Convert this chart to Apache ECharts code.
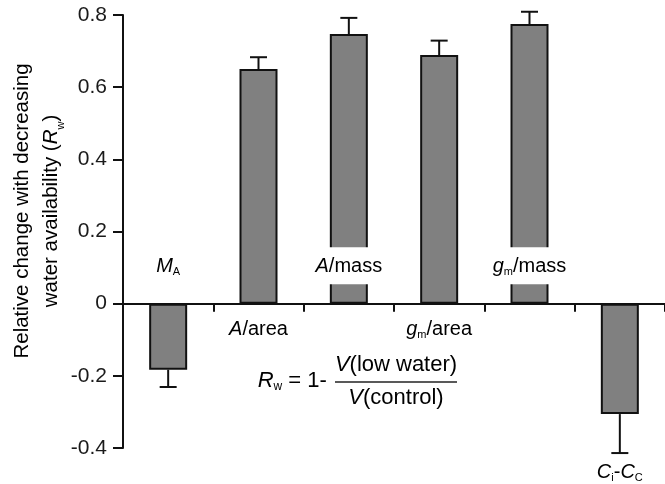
<!DOCTYPE html>
<html><head><meta charset="utf-8">
<script src="https://cdn.jsdelivr.net/npm/echarts@6/dist/echarts.min.js"></script>
<style>html,body{margin:0;padding:0;background:#fff}#c{width:665px;height:484px}</style>
</head><body><div id="c"></div>
<script>
// ---- data ----
const categories = ['MA', 'A/area', 'A/mass', 'gm/area', 'gm/mass', 'Ci-Cc'];
const categoryLabels = ['{i|M}{s|A}', '{i|A}{n|/area}', '{i|A}{n|/mass}', '{i|g}{s|m}{n|/area}', '{i|g}{s|m}{n|/mass}', '{i|C}{s|i}{n|-}{i|C}{s|C}'];
const labelPlacement = ['above', 'below', 'above', 'below', 'above', 'end'];
const values = [-0.183, 0.650, 0.747, 0.689, 0.775, -0.306];
const errors = [0.048, 0.033, 0.045, 0.040, 0.034, 0.108];
const yMin = -0.4, yMax = 0.8, yStep = 0.2;

const FONT = 'Arial, "Liberation Sans", Helvetica, sans-serif';
const TXT = '#1a1a1a';
function mkRich(fs, sub, lh) {
  return {
    i: {fontFamily: FONT, fontSize: fs, fontStyle: 'italic', color: TXT, lineHeight: lh, verticalAlign: 'middle'},
    n: {fontFamily: FONT, fontSize: fs, color: TXT, lineHeight: lh, verticalAlign: 'middle'},
    s: {fontFamily: FONT, fontSize: sub, color: TXT, lineHeight: Math.round(sub * 1.15), verticalAlign: 'bottom'}
  };
}
const rich = mkRich(20, 11, 22);
const richF = mkRich(22, 12, 24);

const chart = echarts.init(document.getElementById('c'), null, {renderer: 'canvas'});
const barData = values.map((v, i) => [i, v]);
const errData = values.map((v, i) => [i, v, errors[i]]);

chart.setOption({
  animation: false,
  backgroundColor: '#fff',
  grid: {left: 123, right: -2, top: 15, bottom: 36, containLabel: false},
  xAxis: {
    type: 'category', data: categories,
    axisLine: {onZero: true, lineStyle: {color: '#111', width: 2}},
    axisTick: {show: true, inside: false, length: 8, lineStyle: {color: '#111', width: 2}},
    axisLabel: {show: false},
    splitLine: {show: false}
  },
  yAxis: {
    type: 'value', min: yMin, max: yMax, interval: yStep,
    axisLine: {show: true, onZero: false, lineStyle: {color: '#111', width: 2}},
    axisTick: {show: true, inside: false, length: 10, lineStyle: {color: '#111', width: 2}},
    axisLabel: {margin: 16, fontFamily: FONT, fontSize: 21, color: TXT,
      formatter: v => (Math.abs(v) < 1e-9 ? '0' : v.toFixed(1))},
    splitLine: {show: false}
  },
  series: [
    {
      type: 'bar', data: barData, barWidth: 38,
      itemStyle: {color: '#808080', borderColor: '#111', borderWidth: 2},
      z: 2
    },
    {
      type: 'custom', data: errData, z: 3,
      renderItem: function (params, api) {
        const i = api.value(0), v = api.value(1), e = api.value(2);
        const sign = v >= 0 ? 1 : -1;
        const p0 = api.coord([i, v]);
        const p1 = api.coord([i, v + sign * e]);
        const st = {stroke: '#111', lineWidth: 2};
        return {type: 'group', children: [
          {type: 'line', shape: {x1: p0[0], y1: p0[1], x2: p1[0], y2: p1[1]}, style: st},
          {type: 'line', shape: {x1: p1[0] - 8.5, y1: p1[1], x2: p1[0] + 8.5, y2: p1[1]}, style: st}
        ]};
      }
    },
    {
      type: 'custom', data: errData, z: 5,
      renderItem: function (params, api) {
        const i = api.value(0), v = api.value(1), e = api.value(2);
        const pl = labelPlacement[i];
        const pz = api.coord([i, 0]);
        let y;
        if (pl === 'above') y = pz[1] - 38;
        else if (pl === 'below') y = pz[1] + 26;
        else y = api.coord([i, v - e])[1] + 19;
        const style = {
          text: categoryLabels[i], rich: rich, x: pz[0], y: y,
          align: 'center', verticalAlign: 'middle'
        };
        if (pl === 'above') {
          style.backgroundColor = '#fff';
          style.padding = [8, 4, 7, 4];
        }
        return {type: 'text', style: style, z2: 10};
      }
    }
  ],
  graphic: [
    {
      type: 'text', x: 37, y: 211, rotation: Math.PI / 2,
      style: {
        text: '{n|Relative change with decreasing}\n{n|water availability (}{i|R}{s|w}{n|)}',
        rich: {
          i: {fontFamily: FONT, fontSize: 20.5, fontStyle: 'italic', color: TXT, lineHeight: 29, verticalAlign: 'middle'},
          n: {fontFamily: FONT, fontSize: 20.5, color: TXT, lineHeight: 29, verticalAlign: 'middle'},
          s: {fontFamily: FONT, fontSize: 11, color: TXT, lineHeight: 14, verticalAlign: 'bottom'}
        },
        align: 'center', verticalAlign: 'middle'
      }
    },
    {
      type: 'text', x: 333, y: 381,
      style: {text: '{i|R}{s|w}{n| = 1- }', rich: richF, align: 'right', verticalAlign: 'middle'}
    },
    {
      type: 'text', x: 396, y: 365,
      style: {text: '{i|V}{n|(low water)}', rich: richF, align: 'center', verticalAlign: 'middle'}
    },
    {
      type: 'line', shape: {x1: 335, y1: 382, x2: 457, y2: 382},
      style: {stroke: '#222', lineWidth: 1.5}
    },
    {
      type: 'text', x: 396, y: 398,
      style: {text: '{i|V}{n|(control)}', rich: richF, align: 'center', verticalAlign: 'middle'}
    }
  ]
});
</script>
</body></html>
